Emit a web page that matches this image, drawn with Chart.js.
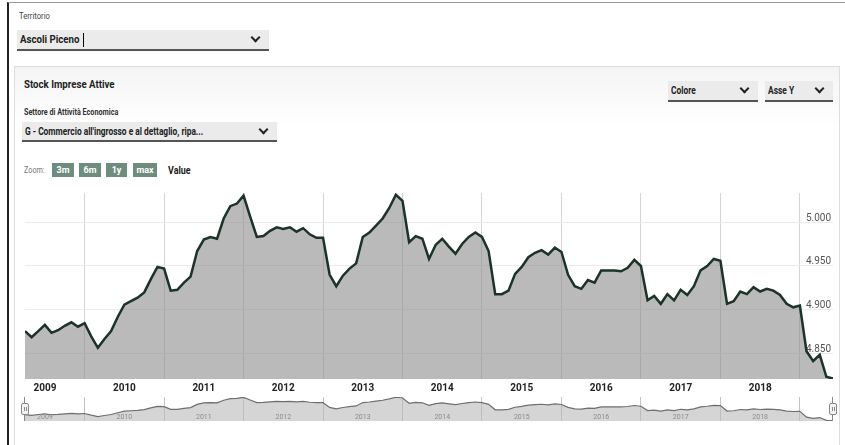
<!DOCTYPE html>
<html>
<head>
<meta charset="utf-8">
<script src="https://cdn.jsdelivr.net/npm/chart.js@4.4.1/dist/chart.umd.min.js"></script>
<style>
  html, body { margin: 0; padding: 0; background: #fff; }
  body { width: 845px; height: 445px; position: relative; overflow: hidden;
         font-family: Roboto, "Open Sans", sans-serif; color: #222; }
  .frame { position: absolute; left: 7px; top: 2px; right: -2px; bottom: -2px;
           border-left: 2px solid #222; border-top: 1px solid #999; }
  .lbl { position: absolute; font-size: 9px; color: #444; white-space: nowrap; }
  .cnd { display: inline-block; transform: scaleX(0.8); transform-origin: left center; white-space: nowrap; }
  .sel { position: absolute; background: #ebebeb; border-bottom: 2px solid #555; white-space: nowrap; overflow: hidden;
         font-weight: bold; font-size: 11px; line-height: 19px; padding-left: 3px; box-sizing: border-box; }
  .sel .chev { position: absolute; right: 10px; top: 4px; width: 5px; height: 5px;
               border-right: 2.5px solid #222; border-bottom: 2.5px solid #222; transform: rotate(45deg); }
  .panel { position: absolute; left: 14px; top: 66px; width: 824px; height: 400px;
           border: 1px solid #ddd; background: linear-gradient(#f4f4f4, #fff 60px); }
  .title { position: absolute; font-weight: bold; font-size: 11.5px; white-space: nowrap; }
  .btn { position: absolute; top: 163px; height: 14px; background: #6f8d7e; color: #fff;
         font-size: 9px; font-weight: bold; line-height: 14px; text-align: center; }
  .handle { position: absolute; width: 6px; height: 10px; background: #f4f4f4; border: 1px solid #888; border-radius: 2px; }
  .handle::before, .handle::after { content: ""; position: absolute; top: 3px; width: 1px; height: 4px; background: #888; }
  .handle::before { left: 1.5px; } .handle::after { left: 3.5px; }
  .hline { position: absolute; width: 1px; background: #888; }
</style>
</head>
<body>
<div class="frame"></div>
<div class="lbl" style="left:19px; top:11px;"><span class="cnd" style="transform:scaleX(0.85)">Territorio</span></div>
<div class="sel" style="left:17px; top:30px; width:252px; height:21px;"><span class="cnd" style="transform:scaleX(0.88)">Ascoli Piceno</span><span style="position:absolute;left:66px;top:3px;width:1px;height:14px;background:#000"></span><span class="chev"></span></div>

<div class="panel"></div>
<div class="title" style="left:24px; top:77px;"><span class="cnd" style="transform:scaleX(0.84)">Stock Imprese Attive</span></div>
<div class="sel" style="left:668px; top:81px; width:90px; height:21px; font-size:10.5px;"><span class="cnd">Colore</span><span class="chev"></span></div>
<div class="sel" style="left:765px; top:81px; width:68px; height:21px; font-size:10.5px;"><span class="cnd">Asse Y</span><span class="chev"></span></div>
<div class="lbl" style="left:24px; top:107px; font-size:8.5px; font-weight:bold; color:#333;"><span class="cnd" style="transform:scaleX(0.85)">Settore di Attività Economica</span></div>
<div class="sel" style="left:22px; top:122px; width:255px; height:20px;"><span class="cnd" style="transform:scaleX(0.76)">G - Commercio all'ingrosso e al dettaglio, ripa...</span><span class="chev"></span></div>
<div class="lbl" style="left:24px; top:165px; font-size:8.5px; color:#777;"><span class="cnd" style="transform:scaleX(0.85)">Zoom:</span></div>
<div class="btn" style="left:52px; width:22px;">3m</div>
<div class="btn" style="left:79px; width:22px;">6m</div>
<div class="btn" style="left:106px; width:21px;">1y</div>
<div class="btn" style="left:133px; width:24px;">max</div>
<div class="title" style="left:168px; top:164px; font-size:10.5px;"><span class="cnd" style="transform:scaleX(0.85)">Value</span></div>

<div style="position:absolute; left:0; top:188px; width:845px; height:212px;"><canvas id="stockChart"></canvas></div>
<div style="position:absolute; left:0; top:395px; width:845px; height:28px;"><canvas id="navChart"></canvas></div>
<div class="hline" style="left:24px; top:397px; height:24px;"></div>
<div class="hline" style="left:832px; top:397px; height:24px;"></div>
<div class="handle" style="left:21px; top:403px;"></div>
<div class="handle" style="left:829px; top:403px;"></div>

<script>
// monthly stock of active firms, Apr 2009 - Jun 2019
const startYear = 2009;
const startMonth = 4;
const values2009 = [4876, 4869, 4876, 4883, 4874, 4877, 4882, 4886, 4881];
const values2010 = [4885, 4870, 4857, 4867, 4876, 4892, 4906, 4910, 4914, 4920, 4935, 4949];
const values2011 = [4947, 4922, 4923, 4931, 4938, 4967, 4980, 4983, 4981, 5004, 5018, 5021];
const values2012 = [5030, 5006, 4983, 4984, 4990, 4994, 4992, 4994, 4989, 4993, 4986, 4982];
const values2013 = [4982, 4940, 4927, 4939, 4947, 4953, 4983, 4988, 4996, 5004, 5016, 5031];
const values2014 = [5024, 4977, 4984, 4981, 4958, 4974, 4981, 4972, 4964, 4975, 4983, 4988];
const values2015 = [4983, 4967, 4918, 4918, 4922, 4941, 4949, 4960, 4965, 4968, 4963, 4971];
const values2016 = [4966, 4940, 4927, 4924, 4934, 4931, 4945, 4945, 4945, 4944, 4948, 4957];
const values2017 = [4950, 4911, 4916, 4907, 4918, 4911, 4923, 4917, 4927, 4945, 4950, 4958];
const values2018 = [4956, 4907, 4910, 4921, 4918, 4926, 4921, 4924, 4922, 4917, 4907, 4903];
const values2019 = [4905, 4853, 4842, 4849, 4824, 4822];

const yearLabels = ['2009', '2010', '2011', '2012', '2013', '2014', '2015', '2016', '2017', '2018'];
const yearBounds = [2010, 2011, 2012, 2013, 2014, 2015, 2016, 2017, 2018, 2019];
const yTicks = [4850, 4900, 4950, 5000];

const values = [].concat(values2009, values2010, values2011, values2012, values2013,
  values2014, values2015, values2016, values2017, values2018, values2019);

// x as decimal year, one point per month
const points = values.map((v, i) => ({ x: startYear + (startMonth - 1 + i) / 12, y: v }));
const xMin = points[0].x;
const xMax = points[points.length - 1].x;

const fmt = v => String(v).replace(/\B(?=(\d{3})+(?!\d))/g, '.');
const FONT = 'Roboto, "Open Sans", sans-serif';

const stockChart = new Chart(document.getElementById('stockChart'), {
  type: 'line',
  data: {
    datasets: [{
      data: points,
      borderColor: '#1c3327',
      borderWidth: 2.5,
      backgroundColor: 'rgba(140, 140, 140, 0.6)',
      fill: 'start',
      pointRadius: 0,
      tension: 0
    }]
  },
  options: {
    responsive: true,
    maintainAspectRatio: false,
    animation: false,
    layout: { padding: { left: 25, right: 12, top: 5, bottom: 3 } },
    plugins: { legend: { display: false }, tooltip: { enabled: false } },
    scales: {
      x: {
        type: 'linear',
        min: xMin,
        max: xMax,
        // gridlines on year boundaries, each label pulled back half a year
        afterBuildTicks: axis => { axis.ticks = yearBounds.map(v => ({ value: v })); },
        grid: { color: '#d4d4d4', drawTicks: false },
        border: { display: false },
        ticks: {
          padding: 3,
          labelOffset: -39.7,
          maxRotation: 0,
          autoSkip: false,
          color: '#222',
          font: { family: FONT, size: 10, weight: 'bold' },
          callback: (v, i) => yearLabels[i]
        }
      },
      y: {
        position: 'right',
        min: 4821.5,
        max: 5033,
        afterBuildTicks: axis => { axis.ticks = yTicks.map(v => ({ value: v })); },
        grid: { color: '#ececec', drawTicks: false },
        border: { display: false },
        ticks: {
          mirror: true,
          padding: -2,
          labelOffset: -4,
          color: '#555',
          font: { family: FONT, size: 10 },
          callback: v => fmt(v)
        }
      }
    }
  }
});

// navigator strip under the main plot
const navChart = new Chart(document.getElementById('navChart'), {
  type: 'line',
  data: {
    datasets: [{
      data: points,
      borderColor: '#6f6f6f',
      borderWidth: 1.2,
      backgroundColor: 'rgba(185, 185, 185, 0.6)',
      fill: 'start',
      pointRadius: 0,
      tension: 0
    }]
  },
  options: {
    responsive: true,
    maintainAspectRatio: false,
    animation: false,
    layout: { padding: { left: 25, right: 12, top: 2, bottom: 2 } },
    plugins: { legend: { display: false }, tooltip: { enabled: false } },
    scales: {
      x: {
        type: 'linear',
        min: xMin,
        max: xMax,
        afterBuildTicks: axis => { axis.ticks = yearBounds.map(v => ({ value: v })); },
        grid: { color: '#c4c4c4', drawTicks: false },
        border: { display: false },
        ticks: {
          mirror: true,
          padding: 0,
          labelOffset: -39.7,
          maxRotation: 0,
          autoSkip: false,
          color: '#444',
          font: { family: FONT, size: 7 },
          callback: (v, i) => yearLabels[i]
        }
      },
      y: {
        display: false,
        min: 4818,
        max: 5033
      }
    }
  }
});
</script>
</body>
</html>
